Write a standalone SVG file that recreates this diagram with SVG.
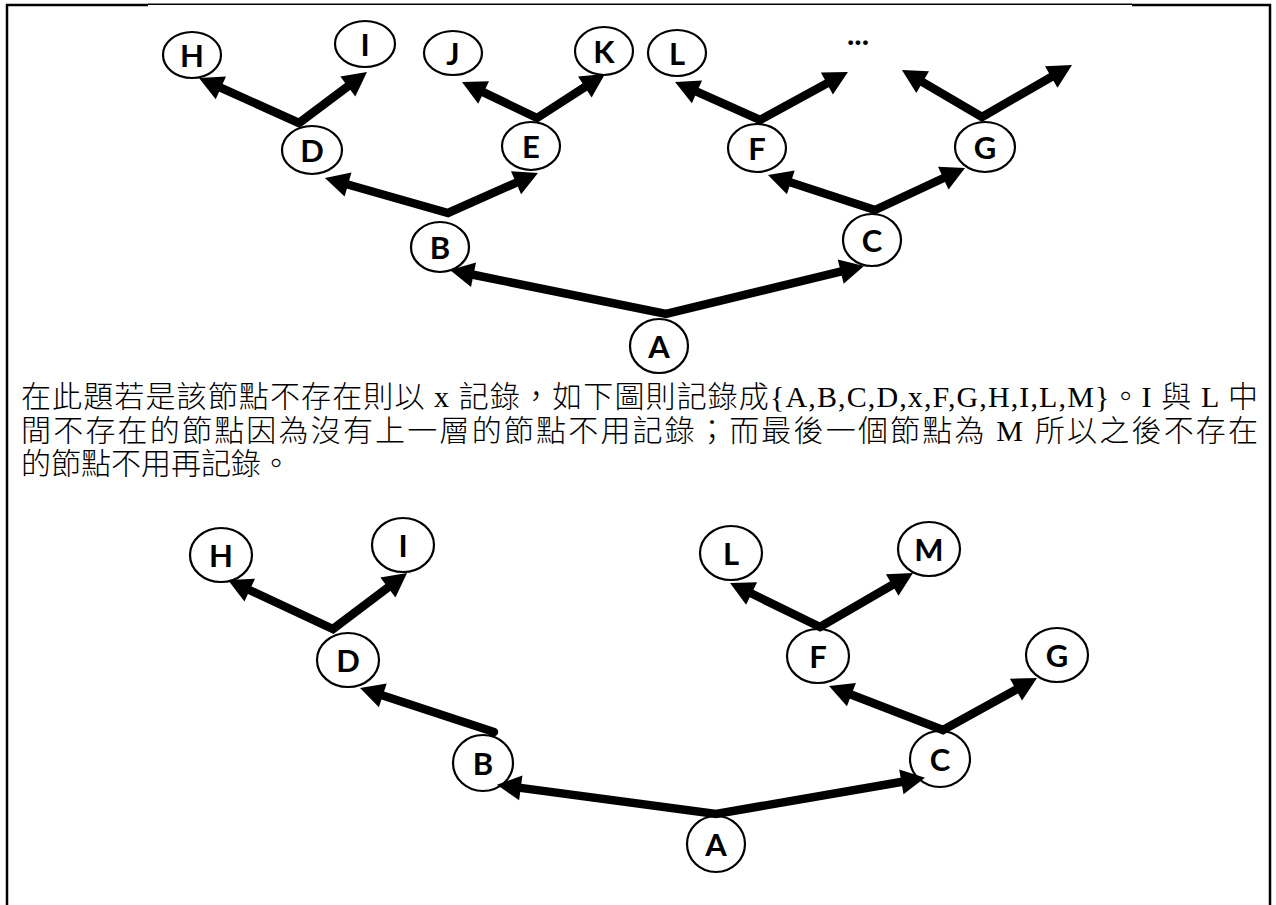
<svg xmlns="http://www.w3.org/2000/svg" width="1276" height="905" viewBox="0 0 1276 905">
<style>
.n ellipse{fill:#fff;stroke:#000;stroke-width:2.2}
.n text{font-family:Lato,"Open Sans",sans-serif;font-weight:700;font-size:31px;fill:#000;text-anchor:middle;dominant-baseline:central}
.c path{fill:none;stroke:#000;stroke-width:8.5;stroke-linejoin:miter;stroke-miterlimit:10}
.t{font-family:"Liberation Serif","Noto Sans CJK TC",serif;font-size:30px;font-weight:300;fill:#000}
.b{stroke:#000;fill:none}
</style>
<defs>
<marker id="ah" markerUnits="userSpaceOnUse" markerWidth="30" markerHeight="28" viewBox="-6 -14 30 28" refX="0" refY="0" orient="auto-start-reverse">
<path d="M-4,-12.5 L20,0 L-4,12.5 z" fill="#000"/>
</marker>
</defs>
<rect width="1276" height="905" fill="#fff"/>
<g id="border">
<line class="b" x1="7" y1="4" x2="7" y2="905" stroke-width="2.5"/>
<line class="b" x1="1270" y1="4" x2="1270" y2="905" stroke-width="2.5"/>
<line class="b" x1="6" y1="5" x2="148" y2="5" stroke-width="2.6"/>
<line class="b" x1="148" y1="4.2" x2="1132" y2="4.2" stroke-width="1.4"/>
<line class="b" x1="1132" y1="5" x2="1271" y2="5" stroke-width="2.6"/>
</g>
<!-- top tree nodes -->
<g id="t-H" class="n"><ellipse cx="192" cy="55" rx="29" ry="23"/><text x="192" y="55">H</text></g>
<g id="t-I" class="n"><ellipse cx="365" cy="44" rx="30" ry="23"/><text x="365" y="44">I</text></g>
<g id="t-J" class="n"><ellipse cx="453" cy="53" rx="29" ry="22"/><text x="453" y="53">J</text></g>
<g id="t-K" class="n"><ellipse cx="604" cy="51" rx="29" ry="24"/><text x="604" y="51">K</text></g>
<g id="t-L" class="n"><ellipse cx="677" cy="53" rx="29" ry="23"/><text x="677" y="53">L</text></g>
<g id="t-more" class="n"><text x="858" y="33">...</text></g>
<g id="t-D" class="n"><ellipse cx="312" cy="150" rx="30" ry="24"/><text x="312" y="150">D</text></g>
<g id="t-E" class="n"><ellipse cx="531" cy="146" rx="29" ry="24"/><text x="531" y="146">E</text></g>
<g id="t-F" class="n"><ellipse cx="757" cy="148" rx="29" ry="24"/><text x="757" y="148">F</text></g>
<g id="t-G" class="n"><ellipse cx="985" cy="147" rx="30" ry="25"/><text x="985" y="147">G</text></g>
<g id="t-B" class="n"><ellipse cx="440" cy="247" rx="29" ry="25"/><text x="440" y="247">B</text></g>
<g id="t-C" class="n"><ellipse cx="872" cy="240" rx="29" ry="26"/><text x="872" y="240">C</text></g>
<g id="t-A" class="n"><ellipse cx="659" cy="346" rx="29" ry="27"/><text x="659" y="346">A</text></g>
<!-- bottom tree nodes -->
<g id="b-H" class="n"><ellipse cx="221" cy="555" rx="31" ry="27"/><text x="221" y="555">H</text></g>
<g id="b-I" class="n"><ellipse cx="403" cy="545" rx="31" ry="27"/><text x="403" y="545">I</text></g>
<g id="b-D" class="n"><ellipse cx="348" cy="660" rx="31" ry="27"/><text x="348" y="660">D</text></g>
<g id="b-L" class="n"><ellipse cx="731" cy="553" rx="31" ry="27"/><text x="731" y="553">L</text></g>
<g id="b-M" class="n"><ellipse cx="929" cy="549" rx="31" ry="27"/><text x="929" y="549">M</text></g>
<g id="b-F" class="n"><ellipse cx="818" cy="656" rx="31" ry="27"/><text x="818" y="656">F</text></g>
<g id="b-G" class="n"><ellipse cx="1057" cy="655" rx="31" ry="27"/><text x="1057" y="655">G</text></g>
<g id="b-B" class="n"><ellipse cx="483" cy="763" rx="30" ry="28"/><text x="483" y="763">B</text></g>
<g id="b-C" class="n"><ellipse cx="940" cy="759" rx="30" ry="28"/><text x="940" y="759">C</text></g>
<g id="b-A" class="n"><ellipse cx="716" cy="844" rx="29" ry="28"/><text x="716" y="844">A</text></g>
<g id="connectors" class="c">
<path d="M217.2,86.2 L299,123 L351,84" marker-start="url(#ah)" marker-end="url(#ah)"/>
<path d="M480,90.7 L537,118 L588.2,84.9" marker-start="url(#ah)" marker-end="url(#ah)"/>
<path d="M693.3,90.2 L760,120 L830.4,81.6" marker-start="url(#ah)" marker-end="url(#ah)"/>
<path d="M919.2,80.1 L982,117 L1054.7,75" marker-start="url(#ah)" marker-end="url(#ah)"/>
<path d="M344.2,183.5 L448,213 L519.7,181.1" marker-start="url(#ah)" marker-end="url(#ah)"/>
<path d="M787,181.2 L875,210 L946.9,176.5" marker-start="url(#ah)" marker-end="url(#ah)"/>
<path d="M469.6,274 L666,314 L844.6,270.7" marker-start="url(#ah)" marker-end="url(#ah)"/>
<path d="M246.1,588.5 L333,629 L391.1,585.1" marker-start="url(#ah)" marker-end="url(#ah)"/>
<path d="M494,732 L379,694.2" stroke-linecap="round" marker-end="url(#ah)"/>
<path d="M748,591.8 L820,627 L895.7,583" marker-start="url(#ah)" marker-end="url(#ah)"/>
<path d="M847.7,693.2 L943,730 L1019.5,687.7" marker-start="url(#ah)" marker-end="url(#ah)"/>
<path d="M516.8,787.4 L716,814 L905.3,781.2" marker-start="url(#ah)" marker-end="url(#ah)"/>
</g>
<g id="text">
<text class="t" x="21" y="407" textLength="1237" lengthAdjust="spacing">在此題若是該節點不存在則以 x 記錄，如下圖則記錄成{A,B,C,D,x,F,G,H,I,L,M}。I 與 L 中</text>
<text class="t" x="21" y="441" textLength="1237" lengthAdjust="spacing">間不存在的節點因為沒有上一層的節點不用記錄；而最後一個節點為 M 所以之後不存在</text>
<text class="t" x="21" y="474">的節點不用再記錄。</text>
</g>
</svg>
